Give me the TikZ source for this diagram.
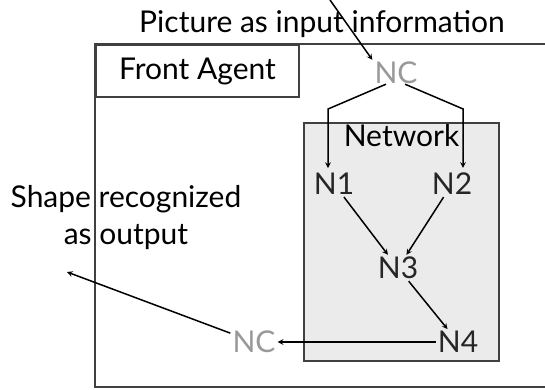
\documentclass[tikz,border=0pt]{standalone}
\usepackage{fontspec}
\setmainfont{Lato}
\usetikzlibrary{arrows, positioning, calc}

\begin{document}
\begin{tikzpicture}[x=1pt, y=-1pt, >=stealth]

% Styles
\tikzstyle{txt} = [inner sep=2pt, font=\fontsize{30}{37}\selectfont]
\tikzstyle{gnode} = [txt, text=gray!80]
\tikzstyle{nnode} = [txt, text=black!85]
\tikzstyle{frame} = [draw=black!75, line width=2pt]
\tikzstyle{arrow} = [line width=1.5pt, ->]

\useasboundingbox (0,0) rectangle (545,389);

% --- Frames ---
\draw[frame] (545,44) -- (95,44) -- (95,387) -- (545,387);
\node (front) [frame, anchor=north west, minimum width=203pt, minimum height=52pt] at (95,44) {};
\node (net) [frame, fill=black!8, anchor=north west, minimum width=195pt, minimum height=238pt] at (303,122) {};

% --- Nodes ---
\node (title) [txt] at (322,24) {Picture as input information};
\node (frontlabel) [txt] at (front.center) {Front Agent};
\node (nctop) [gnode] at (396,73) {NC};
\node (netlabel) [txt, below=0pt of net.north] {Network};
\node (n1) [nnode] at (334,184) {N1};
\node (n2) [nnode] at (452,184) {N2};
\node (n3) [nnode] at (398,268) {N3};
\node (n4) [nnode] at (458,342) {N4};
\node (ncbot) [gnode] at (254,342) {NC};
\node (shape) [txt, align=center] at (126,218) {Shape recognized\\as output};

\coordinate (inpic) at (330,0);
\coordinate (outshape) at (67,272);

% --- Arrows ---
\draw[arrow] (inpic) -- (nctop.north west);
\draw[arrow] ($(nctop.south)+(-10,-2)$) -- ($(n1.north)+(-6,-62)$) -- ($(n1.north)+(-6,-3)$);
\draw[arrow] ($(nctop.south)+(9,-2)$) -- ($(n2.north)+(11,-62)$) -- ($(n2.north)+(11,-3)$);
\draw[arrow] (n1) -- (n3);
\draw[arrow] (n2) -- (n3);
\draw[arrow] (n3) -- (n4);
\draw[arrow] (n4) -- (ncbot);
\draw[arrow] (ncbot) -- (outshape);

\end{tikzpicture}
\end{document}
